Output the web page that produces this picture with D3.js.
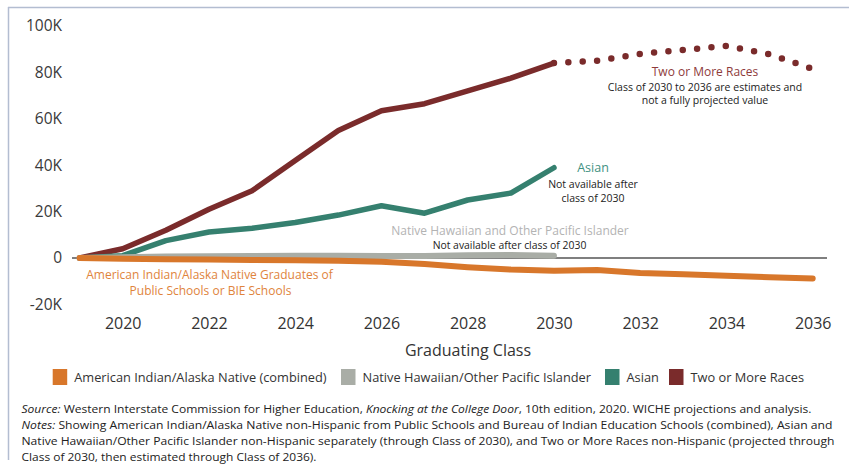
<!DOCTYPE html>
<html>
<head>
<meta charset="utf-8">
<script src="https://cdn.jsdelivr.net/npm/d3@7"></script>
<style>
  html, body { margin: 0; padding: 0; background: #fff; }
  svg { display: block; font-family: "Open Sans", sans-serif; }
</style>
</head>
<body>
<svg id="chart" width="849" height="471"></svg>
<script>
// ---- data ----
const years = d3.range(2019, 2037);
const yearsTo2030 = d3.range(2019, 2031);
const yearsEst = d3.range(2030, 2037);

const twoOrMore = [0, 4, 12, 21, 29, 42, 55, 63.5, 66.5, 72, 77.5, 84];
const twoOrMoreEst = [84, 85, 88, 89.7, 91.4, 87.8, 81.5];
const asian = [0, 1, 7.5, 11.2, 12.8, 15.3, 18.5, 22.5, 19.3, 25, 28, 38.9];
const nhpi = [0, 0.3, 0.6, 0.8, 0.9, 1.0, 1.0, 0.9, 0.9, 1.2, 1.3, 1.0];
const aian = [0, -0.3, -0.5, -0.7, -0.9, -1.0, -1.2, -1.6, -2.6, -4.0, -5.0, -5.5, -5.2, -6.5, -7.0, -7.6, -8.3, -8.8];

const yTicks = [-20, 0, 20, 40, 60, 80, 100];
const xTicks = [2020, 2022, 2024, 2026, 2028, 2030, 2032, 2034, 2036];

const legendLabels = ["American Indian/Alaska Native (combined)", "Native Hawaiian/Other Pacific Islander", "Asian", "Two or More Races"];
const colors = ["#d8772b", "#a9ada6", "#35806f", "#7a2b2b"];

// ---- setup ----
const svg = d3.select("#chart");
const x = d3.scaleLinear().domain([2019, 2036]).range([79.6, 812.7]);
const y = d3.scaleLinear().domain([-20, 100]).range([304.4, 26]);

// frame
svg.append("line").attr("x1", 8).attr("x2", 849).attr("y1", 7.5).attr("y2", 7.5)
  .attr("stroke", "#b3bdd1").attr("stroke-width", 1.5);
svg.append("line").attr("x1", 8.5).attr("x2", 8.5).attr("y1", 7).attr("y2", 460)
  .attr("stroke", "#b3bdd1").attr("stroke-width", 1.5);

// y axis
const yAxis = svg.append("g").attr("transform", "translate(72,0)")
  .call(d3.axisLeft(y).tickValues(yTicks).tickSize(0).tickPadding(10)
    .tickFormat(d => d === 0 ? "0" : d + "K"));
yAxis.select(".domain").remove();
yAxis.selectAll("text").attr("font-size", 15.5).attr("fill", "#3a3a3a").attr("font-family", "Open Sans");

// x axis
const xAxis = svg.append("g").attr("transform", "translate(0,304)")
  .call(d3.axisBottom(x).tickValues(xTicks).tickSize(0).tickPadding(13.5).tickFormat(d3.format("d")));
xAxis.select(".domain").remove();
xAxis.selectAll("text").attr("font-size", 16).attr("fill", "#333").attr("font-family", "Open Sans");

svg.append("text").attr("x", 468).attr("y", 356).attr("text-anchor", "middle")
  .attr("font-size", 16).attr("fill", "#333").text("Graduating Class");

// zero line
svg.append("line").attr("x1", 72).attr("x2", 827).attr("y1", y(0)).attr("y2", y(0))
  .attr("stroke", "#555").attr("stroke-width", 1.5);

const line = d3.line().x(d => x(d[0])).y(d => y(d[1])).curve(d3.curveLinear);
function draw(xs, vs, color, w, extra) {
  const p = svg.append("path").datum(xs.map((yr, i) => [yr, vs[i]]))
    .attr("d", line).attr("fill", "none").attr("stroke", color)
    .attr("stroke-width", w).attr("stroke-linejoin", "round").attr("stroke-linecap", "round");
  if (extra) extra(p);
  return p;
}

// estimated dotted part
draw(yearsEst, twoOrMoreEst, colors[3], 6.5, p => p.attr("stroke-dasharray", "0 14.4"));
draw(yearsTo2030, twoOrMore, colors[3], 5.5);
draw(yearsTo2030, asian, colors[2], 5.5);
draw(yearsTo2030, nhpi, colors[1], 6);
draw(years, aian, colors[0], 6);

// annotations
function label(xp, yp, txt, size, color, anchor) {
  return svg.append("text").attr("x", xp).attr("y", yp).attr("text-anchor", anchor || "middle")
    .attr("font-size", size).attr("fill", color).text(txt);
}
label(705, 75.5, "Two or More Races", 12, "#8e3b3b");
label(705, 90.5, "Class of 2030 to 2036 are estimates and", 10.5, "#222");
label(705, 104, "not a fully projected value", 10.5, "#222");

label(593, 172, "Asian", 12.5, "#3f9282");
label(593, 188, "Not available after", 10.5, "#222");
label(593, 202, "class of 2030", 10.5, "#222");

label(510, 234.5, "Native Hawaiian and Other Pacific Islander", 12, "#b3b3b3");
label(509.5, 248.5, "Not available after class of 2030", 10.4, "#222");

label(209.5, 279, "American Indian/Alaska Native Graduates of", 12, "#e0843c");
label(210.5, 294.5, "Public Schools or BIE Schools", 12, "#e0843c");

// legend
const legendX = [52.7, 341, 605, 669];
legendLabels.forEach((t, i) => {
  svg.append("rect").attr("x", legendX[i]).attr("y", 369).attr("width", 14.5).attr("height", 16)
    .attr("fill", colors[i]);
  svg.append("text").attr("x", legendX[i] + 21.5).attr("y", 381.5)
    .attr("font-size", 12.8).attr("fill", "#333").text(t);
});

// source notes
const notes = [
  { y: 413, len: 790, parts: [["Source:", true], [" Western Interstate Commission for Higher Education, ", false], ["Knocking at the College Door", true], [", 10th edition, 2020. WICHE projections and analysis.", false]] },
  { y: 429, len: 811, parts: [["Notes:", true], [" Showing American Indian/Alaska Native non-Hispanic from Public Schools and Bureau of Indian Education Schools (combined), Asian and", false]] },
  { y: 445, len: 813, parts: [["Native Hawaiian/Other Pacific Islander non-Hispanic separately (through Class of 2030), and Two or More Races non-Hispanic (projected through", false]] },
  { y: 461, len: 295, parts: [["Class of 2030, then estimated through Class of 2036).", false]] }
];
notes.forEach(n => {
  const t = svg.append("text").attr("x", 21.5).attr("y", n.y).attr("font-size", 11.5).attr("fill", "#222")
    .attr("textLength", n.len).attr("lengthAdjust", "spacingAndGlyphs");
  n.parts.forEach(([s, it]) => t.append("tspan").attr("font-style", it ? "italic" : "normal").text(s));
});
</script>
</body>
</html>
